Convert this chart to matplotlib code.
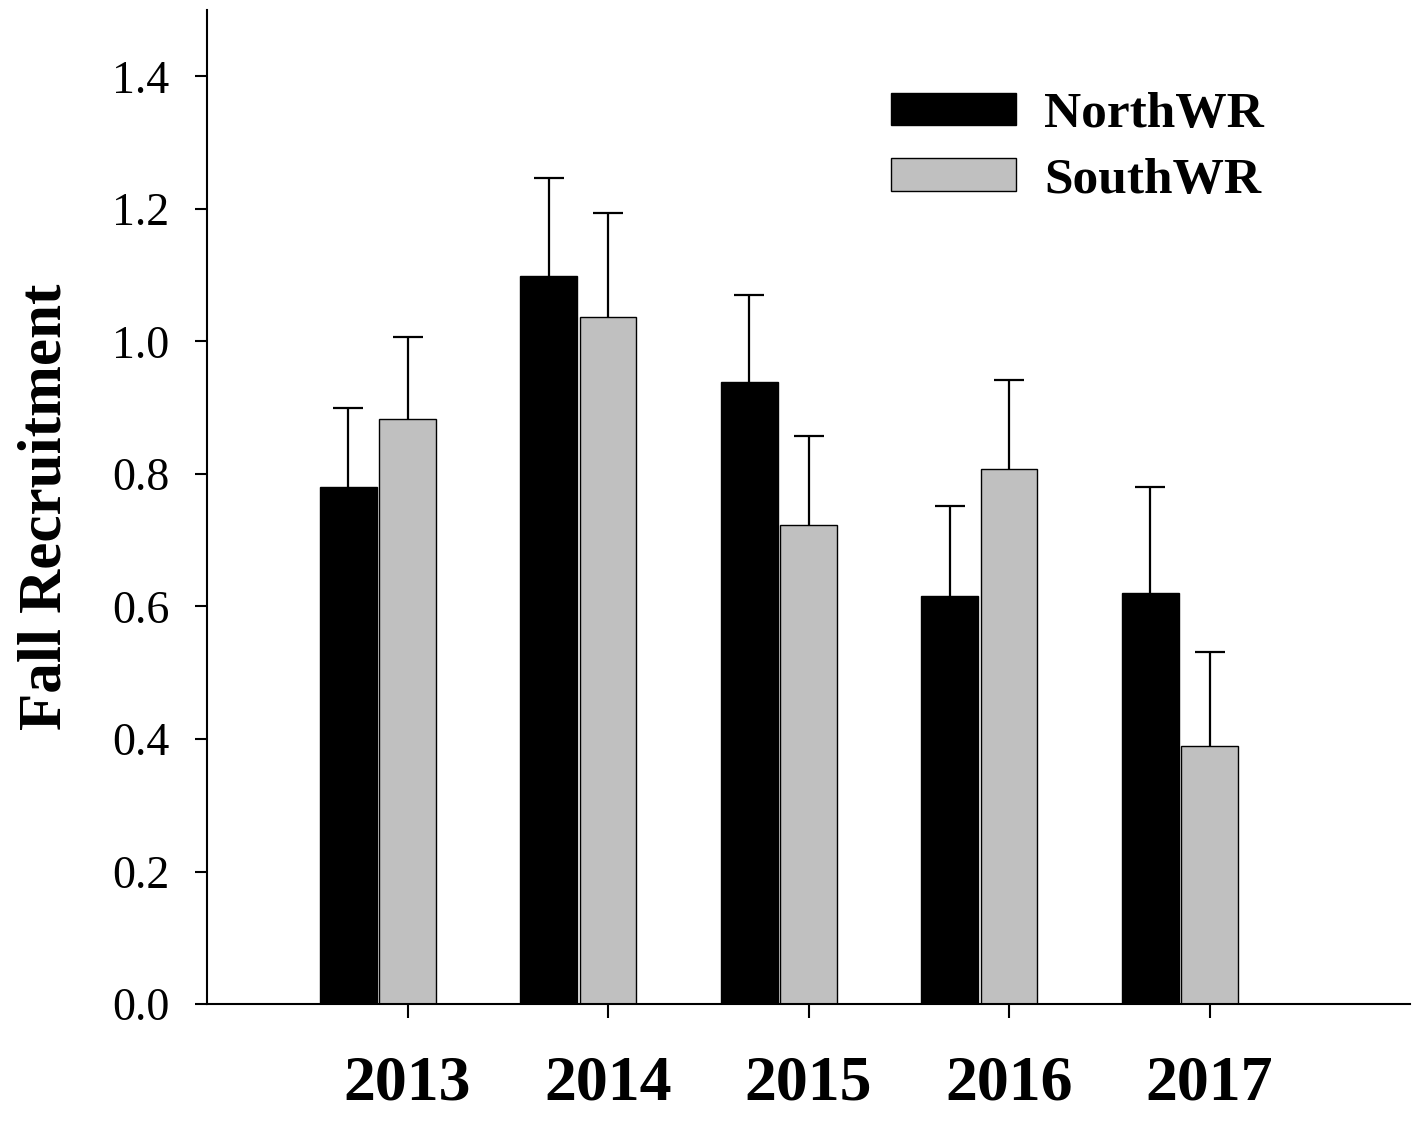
import numpy as np
import matplotlib
matplotlib.use("Agg")
import matplotlib.pyplot as plt

plt.rcParams['font.family'] = ['Liberation Serif', 'DejaVu Serif']

# data
years = ["2013", "2014", "2015", "2016", "2017"]
north = [0.78, 1.098, 0.939, 0.615, 0.620]
north_err = [0.120, 0.148, 0.131, 0.136, 0.160]
south = [0.883, 1.037, 0.723, 0.807, 0.390]
south_err = [0.124, 0.156, 0.134, 0.135, 0.142]

x = np.arange(len(years))
w = 0.283

fig = plt.figure(figsize=(14.16, 11.27), dpi=100)
ax = fig.add_axes([0.1462, 0.1091, 0.8496, 0.882])

err_kw = dict(ecolor="black", elinewidth=1.6, capsize=11, capthick=1.6)
b1 = ax.bar(x - 0.296, north, w, color="black", edgecolor="black", linewidth=1,
            yerr=[np.zeros(len(x)), north_err], error_kw=err_kw, label="NorthWR")
b2 = ax.bar(x, south, w, color="#c0c0c0", edgecolor="black", linewidth=1,
            yerr=[np.zeros(len(x)), south_err], error_kw=err_kw, label="SouthWR")
# only the upper half of the error bars is shown
for b in (b1, b2):
    b.errorbar.lines[1][0].set_visible(False)

ax.set_xlim(-1.0, 5.0)
ax.set_ylim(0, 1.5)
ax.set_yticks(np.arange(0, 1.41, 0.2))
ax.set_yticklabels([f"{v:.1f}" for v in np.arange(0, 1.41, 0.2)], fontsize=33)
ax.set_xticks(x)
ax.set_xticklabels(years, fontsize=46, fontweight="bold")
ax.tick_params(axis="y", length=9, width=1.5, pad=18)
ax.tick_params(axis="x", length=10, width=1.5, pad=27)

for s in ["top", "right"]:
    ax.spines[s].set_visible(False)
ax.spines["left"].set_linewidth(1.5)
ax.spines["bottom"].set_linewidth(1.5)

ax.set_ylabel("Fall Recruitment", fontsize=44, fontweight="bold", labelpad=28)

ax.legend(loc="upper left", bbox_to_anchor=(891 / 1416, 1 - 92 / 1127),
          bbox_transform=fig.transFigure, frameon=False, borderpad=0,
          borderaxespad=0, handlelength=2.43, handleheight=0.6,
          handletextpad=0.55, labelspacing=0.38,
          prop={"size": 37, "weight": "bold"})

fig.savefig("out.png", dpi=100)
